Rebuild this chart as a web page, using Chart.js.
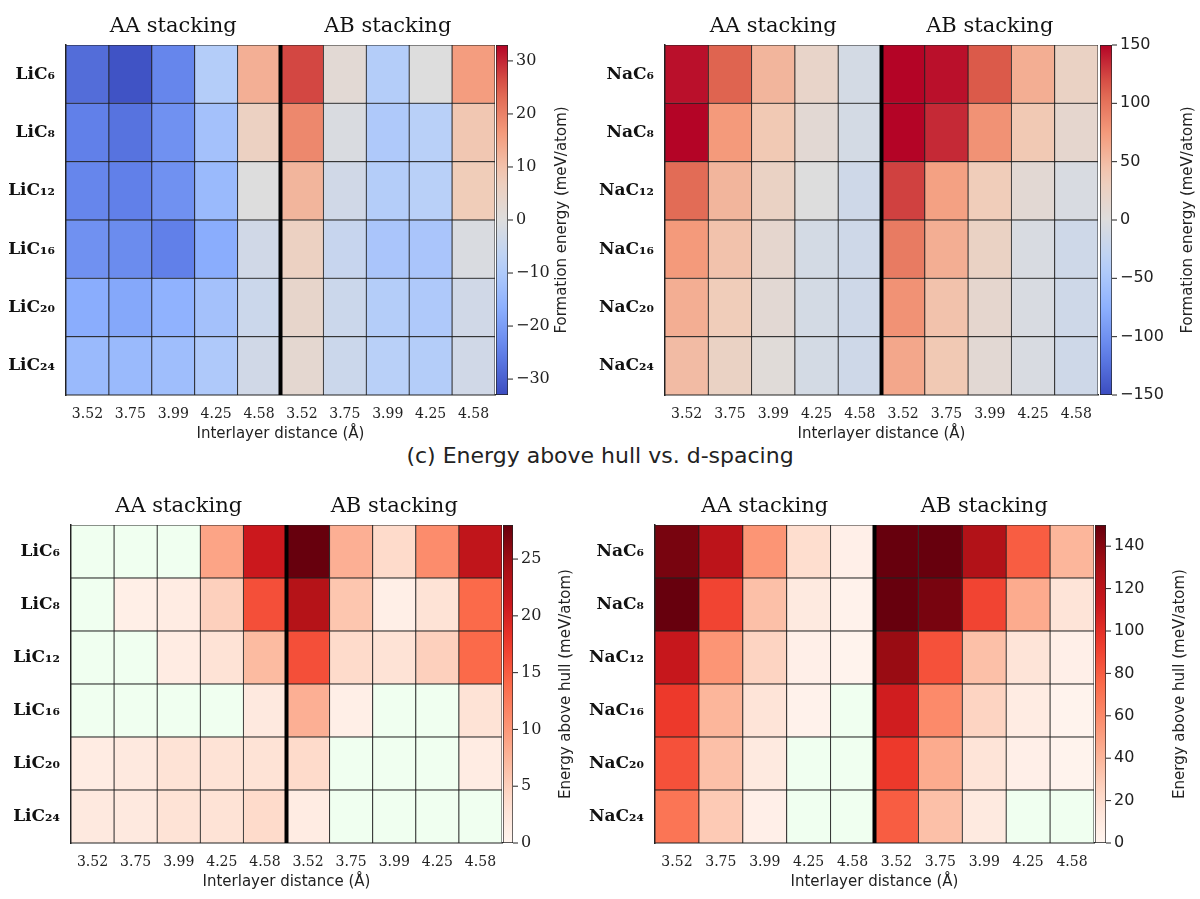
<!DOCTYPE html>
<html><head><meta charset="utf-8">
<script src="https://cdn.jsdelivr.net/npm/chart.js@4"></script>
<style>
body{margin:0;background:#fff;width:1200px;height:899px;position:relative;overflow:hidden}
canvas{position:absolute}
#title{position:absolute;top:443px;left:0;width:1200px;text-align:center;font:22px "DejaVu Sans";color:#222}
</style></head><body>
<div id="title">(c) Energy above hull vs. d-spacing</div>
<script>
// ===== DATA =====
const distances = ['3.52','3.75','3.99','4.25','4.58','3.52','3.75','3.99','4.25','4.58'];
const liRows = ['LiC₆','LiC₈','LiC₁₂','LiC₁₆','LiC₂₀','LiC₂₄'];
const naRows = ['NaC₆','NaC₈','NaC₁₂','NaC₁₆','NaC₂₀','NaC₂₄'];

// formation energy, rows top->bottom, AA then AB
const liForm = [
  [-28,-32,-24,-9,13, 27,2,-9,0,16],
  [-25,-27,-22,-12,6, 19,-1,-10,-8,9],
  [-24,-25,-22,-14,0, 12,-3,-9,-8,8],
  [-22,-23,-25,-17,-3, 6,-5,-11,-11,-1],
  [-17,-18,-16,-12,-4, 4,-4,-9,-10,-3],
  [-14,-14,-13,-10,-3, 3,-4,-8,-9,-3]
];
const naForm = [
  [145,110,55,20,-10, 150,145,115,60,25],
  [150,75,40,10,-10, 150,135,80,40,15],
  [105,55,25,0,-15, 125,70,35,10,-5],
  [75,45,15,-10,-15, 95,60,25,-5,-15],
  [60,35,10,-10,-15, 80,45,15,-5,-15],
  [50,25,5,-10,-15, 65,40,10,-5,-15]
];
// energy above hull (null = on hull, drawn green)
const liHull = [
  [null,null,null,9,21, 28,8,4,11,22],
  [null,1,1.5,5,16, 23,6,1,3,14],
  [null,null,1.5,3,7, 16,4,3,5,14],
  [null,null,null,null,2, 8,1,null,null,3],
  [1.5,2,3,3,3, 4,null,null,null,1.5],
  [2,2,3,3,4, 1.5,null,null,null,null]
];
const naHull = [
  [145,120,55,20,5, 150,150,125,80,40],
  [150,90,35,10,3, 150,145,90,45,15],
  [115,55,25,5,2, 135,85,35,15,5],
  [95,40,15,3,null, 110,60,25,8,2],
  [85,35,10,null,null, 95,45,15,5,2],
  [70,30,5,null,null, 80,35,10,null,null]
];

// ===== COLORMAPS =====
const coolwarm = [[59,76,192],[98,130,234],[141,176,254],[184,208,249],[221,221,221],[241,204,184],[244,154,123],[222,96,77],[180,4,38]];
const reds = [[255,245,240],[254,224,210],[252,187,161],[252,146,114],[251,106,74],[239,59,44],[203,24,29],[165,15,21],[103,0,13]];

function cmap(stops, t) {
  t = Math.max(0, Math.min(1, t));
  const p = t * (stops.length - 1);
  const i = Math.min(Math.floor(p), stops.length - 2);
  const f = p - i;
  const c = stops[i].map((v, k) => Math.round(v + (stops[i + 1][k] - v) * f));
  return `rgb(${c[0]},${c[1]},${c[2]})`;
}

const serif = '"DejaVu Serif"';
const sans = '"DejaVu Sans"';

function makeCanvas(left, top, w, h) {
  const c = document.createElement('canvas');
  c.style.left = left + 'px'; c.style.top = top + 'px';
  c.style.width = w + 'px'; c.style.height = h + 'px';
  c.width = w; c.height = h;
  document.body.appendChild(c);
  return c;
}

const padL = 68, padT = 48, xh = 52;

function heatmap(box, rows, values, stops, min, max) {
  const w = box.r - box.l, h = box.b - box.t;
  const cv = makeCanvas(box.l - padL, box.t - padT, w + padL + 4, h + padT + xh);
  const datasets = [];
  for (let r = rows.length - 1; r >= 0; r--) {
    datasets.push({
      data: distances.map(() => 1),
      backgroundColor: values[r].map(v => v === null ? '#f0fff0' : cmap(stops, (v - min) / (max - min))),
      borderColor: '#222', borderWidth: 0.8, borderSkipped: false,
      barPercentage: 1, categoryPercentage: 1
    });
  }
  new Chart(cv, {
    type: 'bar',
    data: { labels: distances, datasets },
    options: {
      responsive: false, animation: false,
      layout: { padding: { top: padT, right: 4 } },
      plugins: { legend: { display: false }, tooltip: { enabled: false } },
      scales: {
        x: {
          stacked: true, grid: { display: false, drawTicks: true }, border: { color: '#222', width: 1.5 },
          ticks: { color: '#222', font: { family: serif, size: 14 } },
          title: { display: true, text: 'Interlayer distance (Å)', color: '#222', font: { family: sans, size: 15 }, padding: { top: 6 } },
          afterFit: s => { s.height = xh; }
        },
        y: {
          stacked: true, min: 0, max: rows.length,
          grid: { display: false }, border: { color: '#222', width: 1.5 },
          afterBuildTicks: s => { s.ticks = rows.map((_, i) => ({ value: i + 0.5 })); },
          ticks: { color: '#111', font: { family: serif, size: 17, weight: 'bold' },
            callback: (v) => rows[rows.length - 1 - Math.floor(v)] },
          afterFit: s => { s.width = padL; }
        }
      }
    },
    plugins: [{
      id: 'deco',
      afterDraw(chart) {
        const ctx = chart.ctx, xs = chart.scales.x, a = chart.chartArea;
        const xm = (xs.getPixelForValue(4) + xs.getPixelForValue(5)) / 2;
        ctx.save();
        ctx.strokeStyle = '#000'; ctx.lineWidth = 4;
        ctx.beginPath(); ctx.moveTo(xm, a.top); ctx.lineTo(xm, a.bottom); ctx.stroke();
        ctx.fillStyle = '#111'; ctx.font = '21px ' + serif; ctx.textAlign = 'center'; ctx.textBaseline = 'bottom';
        ctx.fillText('AA stacking', xs.getPixelForValue(2), a.top - 8);
        ctx.fillText('AB stacking', xs.getPixelForValue(7), a.top - 8);
        ctx.restore();
      }
    }]
  });
}

function colorbar(box, stops, min, max, step, label, tickFont, titleOff) {
  const w = box.r - box.l, h = box.b - box.t;
  const cv = makeCanvas(box.l, box.t - 10, w + 92, h + 20);
  new Chart(cv, {
    type: 'bar',
    data: { labels: [''], datasets: [{
      data: [[min, max]],
      backgroundColor: c => {
        const a = c.chart.chartArea;
        if (!a) return '#ccc';
        const g = c.chart.ctx.createLinearGradient(0, a.bottom, 0, a.top);
        for (let i = 0; i <= 20; i++) g.addColorStop(i / 20, cmap(stops, i / 20));
        return g;
      },
      borderColor: '#222', borderWidth: 1, borderSkipped: false,
      barPercentage: 1, categoryPercentage: 1
    }] },
    options: {
      responsive: false, animation: false,
      layout: { padding: { top: 10, bottom: 10, right: 92 } },
      plugins: { legend: { display: false }, tooltip: { enabled: false } },
      scales: {
        x: { display: false },
        y: {
          position: 'right', min, max, display: false,
          afterBuildTicks: s => {
            const t = [];
            for (let v = Math.ceil(min / step) * step; v <= max; v += step) t.push({ value: v });
            s.ticks = t;
          }
        }
      }
    },
    plugins: [{
      id: 'cbaxis',
      afterDraw(chart) {
        const ctx = chart.ctx, ys = chart.scales.y, a = chart.chartArea;
        ctx.save(); ctx.strokeStyle = '#222'; ctx.fillStyle = '#222'; ctx.lineWidth = 1;
        ctx.font = '16px ' + tickFont; ctx.textBaseline = 'middle'; ctx.textAlign = 'left';
        ys.ticks.forEach(t => {
          const y = ys.getPixelForValue(t.value);
          ctx.beginPath(); ctx.moveTo(a.right, y); ctx.lineTo(a.right + 5, y); ctx.stroke();
          ctx.fillText(String(t.value).replace('-', '−'), a.right + 8, y);
        });
        ctx.font = '15px ' + sans; ctx.textAlign = 'center'; ctx.textBaseline = 'middle';
        ctx.translate(a.right + titleOff, (a.top + a.bottom) / 2);
        ctx.rotate(-Math.PI / 2);
        ctx.fillText(label, 0, 0);
        ctx.restore();
      }
    }]
  });
}

heatmap({ l: 66, t: 45, r: 495, b: 395 }, liRows, liForm, coolwarm, -33, 33);
colorbar({ l: 496, t: 45, r: 508, b: 395 }, coolwarm, -33, 33, 10, 'Formation energy (meV/atom)', serif, 54);
heatmap({ l: 665, t: 45, r: 1098, b: 395 }, naRows, naForm, coolwarm, -150, 150);
colorbar({ l: 1100, t: 45, r: 1112, b: 395 }, coolwarm, -150, 150, 50, 'Formation energy (meV/atom)', sans, 76);
heatmap({ l: 71, t: 525, r: 502, b: 843 }, liRows, liHull, reds, 0, 28);
colorbar({ l: 503, t: 525, r: 513, b: 843 }, reds, 0, 28, 5, 'Energy above hull (meV/atom)', serif, 53);
heatmap({ l: 655, t: 525, r: 1094, b: 843 }, naRows, naHull, reds, 0, 150);
colorbar({ l: 1095, t: 525, r: 1106, b: 843 }, reds, 0, 150, 20, 'Energy above hull (meV/atom)', sans, 74);
</script>
</body></html>
